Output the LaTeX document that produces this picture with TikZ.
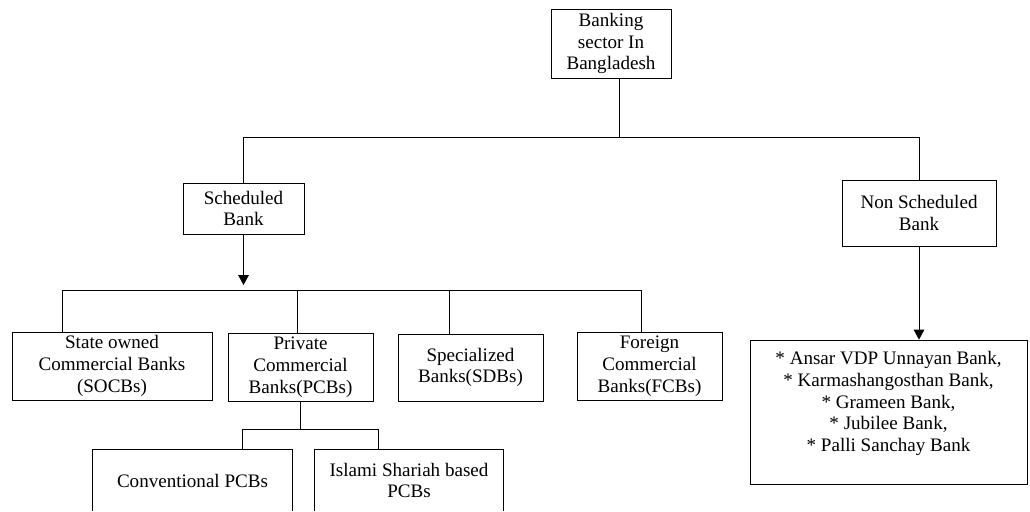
\documentclass[tikz,border=0pt]{standalone}
\usepackage{fontspec}
\setmainfont{Liberation Serif}
\usetikzlibrary{arrows.meta}
\begin{document}
\begin{tikzpicture}[x=0.75pt,y=-0.75pt,
  line width=0.6pt,
  every node/.style={font=\fontsize{14.3pt}{16.3pt}\selectfont},
  box/.style={draw, align=center, inner sep=0pt},
  openbox/.style={align=center, inner sep=0pt},
  arr/.style={-{Triangle[width=8pt,length=7.5pt]}}]
\useasboundingbox (0,0) rectangle (1030,511);
% nodes
\node[box, minimum width=90pt, minimum height=51.75pt] (top) at (611,43.5) {Banking\\sector In\\Bangladesh};
\node[box, minimum width=90.75pt, minimum height=38.25pt] (sched) at (243.5,208.5) {Scheduled\\Bank};
\node[box, minimum width=115.5pt, minimum height=49.5pt] (nonsched) at (919,213) {Non Scheduled\\Bank};
\node[box, minimum width=150pt, minimum height=51pt] (socb) at (112,366) {State owned\\Commercial Banks\\(SOCBs)};
\node[box, minimum width=108.75pt, minimum height=51pt] (pcb) at (300.5,367) {Private\\Commercial\\Banks(PCBs)};
\node[box, minimum width=108.75pt, minimum height=50.25pt] (sdb) at (470.5,367.5) {Specialized\\Banks(SDBs)};
\node[box, minimum width=108.75pt, minimum height=51pt] (fcb) at (649.5,366) {Foreign\\Commercial\\Banks(FCBs)};
\node[openbox, minimum width=149.25pt, minimum height=45.75pt] (conv) at (192.5,480.5) {Conventional PCBs};
\node[openbox, minimum width=141pt, minimum height=45.75pt] (isl) at (409,480.5) {Islami Shariah based\\PCBs};
\node[box, minimum width=207.75pt, minimum height=108pt] (others) at (888.5,412) {};
\node[align=center, inner sep=0pt] (otherstext) at (888.5,403.5) {* Ansar VDP Unnayan Bank,\\* Karmashangosthan Bank,\\* Grameen Bank,\\* Jubilee Bank,\\* Palli Sanchay Bank};
% open-bottom boxes
\draw (conv.south west) -- (conv.north west) -- (conv.north east) -- (conv.south east);
\draw (isl.south west) -- (isl.north west) -- (isl.north east) -- (isl.south east);
% junction coordinates
\coordinate (j0) at (619,137);
\coordinate (a1) at (243.5,285);
\coordinate (b1) at (62,290);
\coordinate (b2) at (297,290);
\coordinate (b3) at (449,290);
\coordinate (b4) at (641,290);
\coordinate (c0) at (300,429);
\coordinate (c1) at (242,429);
\coordinate (c2) at (378,429);
% connectors
\draw (j0 |- top.south) -- (j0);
\draw (sched.north) |- (nonsched.north |- j0) -- (nonsched.north);
\draw[arr] (sched.south) -- (a1);
\draw (b1 |- socb.north) -- (b1) -- (b4) -- (b4 |- fcb.north);
\draw (b2) -- (b2 |- pcb.north);
\draw (b3) -- (b3 |- sdb.north);
\draw (c0 |- pcb.south) -- (c0);
\draw (c1 |- conv.north) -- (c1) -- (c2) -- (c2 |- isl.north);
\draw[arr] (nonsched.south) -- (nonsched.south |- others.north);
\end{tikzpicture}
\end{document}
